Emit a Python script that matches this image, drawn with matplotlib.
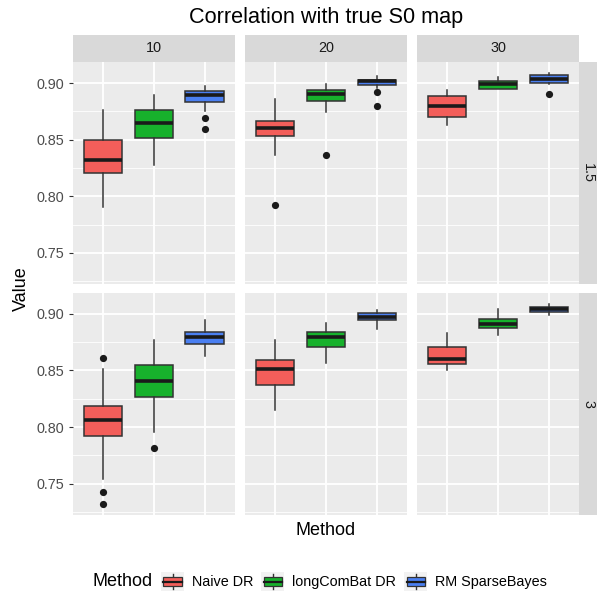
import matplotlib
matplotlib.use("Agg")  # headless
import matplotlib.pyplot as plt
from matplotlib.legend_handler import HandlerBase
from matplotlib.patches import Rectangle, Patch
from matplotlib.lines import Line2D

plt.rcParams["font.family"] = ["Liberation Sans", "DejaVu Sans"]

methods = ["Naive DR", "longComBat DR", "RM SparseBayes"]
fills = ["#F35E5A", "#17B12C", "#4A7FF1"]
col_levels = ["10", "20", "30"]
row_levels = ["1.5", "3"]

# box summaries indexed [row][col][method]
whislo = [
    [[0.7906, 0.8278, 0.8751], [0.8365, 0.8746, 0.8955], [0.8629, 0.8944, 0.8989]],
    [[0.7544, 0.7953, 0.8626], [0.8152, 0.8567, 0.8865], [0.8500, 0.8816, 0.8991]],
]
q1 = [
    [[0.8205, 0.8518, 0.8833], [0.8530, 0.8842, 0.8985], [0.8702, 0.8944, 0.9004]],
    [[0.7924, 0.8266, 0.8737], [0.8368, 0.8708, 0.8944], [0.8559, 0.8871, 0.9020]],
]
med = [
    [[0.8322, 0.8649, 0.8892], [0.8600, 0.8900, 0.9015], [0.8798, 0.8995, 0.9039]],
    [[0.8061, 0.8406, 0.8795], [0.8509, 0.8795, 0.8971], [0.8605, 0.8912, 0.9041]],
]
q3 = [
    [[0.8497, 0.8760, 0.8927], [0.8670, 0.8936, 0.9032], [0.8883, 0.9017, 0.9074]],
    [[0.8187, 0.8544, 0.8839], [0.8588, 0.8839, 0.9003], [0.8708, 0.8953, 0.9058]],
]
whishi = [
    [[0.8760, 0.8892, 0.8971], [0.8863, 0.8994, 0.9061], [0.8942, 0.9053, 0.9088]],
    [[0.8509, 0.8772, 0.8942], [0.8772, 0.8918, 0.9035], [0.8830, 0.9044, 0.9085]],
]
fliers = [
    [[[], [], [0.8696, 0.8596]], [[0.7927], [0.8365], [0.8921, 0.8795]], [[], [], [0.8904]]],
    [[[0.8614, 0.7430, 0.7325], [0.7816], []], [[], [], []], [[], [], []]],
]

W, H = 597, 594
fig = plt.figure(figsize=(W / 100, H / 100), dpi=100)


def px_axes(x0, y0, x1, y1):
    # pixel box (top-left origin) -> figure axes
    return fig.add_axes([x0 / W, 1 - y1 / H, (x1 - x0) / W, (y1 - y0) / H])


PL, PW, GAP = 72.5, 162.5, 9.7
ROWS = [(62.3, 283.8), (293.0, 514.5)]
STRIP_TOP = 34.5
RSTRIP_W = 17.6
GREY85 = "#D9D9D9"

for r, (yt, yb) in enumerate(ROWS):
    for c in range(3):
        x0 = PL + c * (PW + GAP)
        ax = px_axes(x0, yt, x0 + PW, yb)
        ax.set_facecolor("#EBEBEB")
        stats = []
        for m in range(3):
            stats.append({
                "whislo": whislo[r][c][m], "q1": q1[r][c][m], "med": med[r][c][m],
                "q3": q3[r][c][m], "whishi": whishi[r][c][m], "fliers": fliers[r][c][m],
            })
        bp = ax.bxp(stats, positions=[1, 2, 3], widths=0.75, patch_artist=True,
                    showcaps=False, manage_ticks=False,
                    boxprops=dict(edgecolor="#333333", linewidth=1.1),
                    medianprops=dict(color="#1A1A1A", linewidth=2.6, solid_capstyle="butt"),
                    whiskerprops=dict(color="#333333", linewidth=1.1),
                    flierprops=dict(marker="o", markerfacecolor="#1A1A1A",
                                    markeredgecolor="none", markersize=5.2))
        for patch, fc in zip(bp["boxes"], fills):
            patch.set_facecolor(fc)

        ax.set_xlim(0.4, 3.6)
        ax.set_ylim(0.7228, 0.9184)
        ax.set_xticks([1, 2, 3])
        ax.set_yticks([0.75, 0.80, 0.85, 0.90])
        ax.set_yticks([0.725, 0.775, 0.825, 0.875], minor=True)
        ax.set_axisbelow(True)
        ax.grid(which="major", color="white", linewidth=1.3)
        ax.grid(which="minor", axis="y", color="white", linewidth=0.6)
        for s in ax.spines.values():
            s.set_visible(False)
        ax.tick_params(axis="x", length=0, labelbottom=False)
        ax.tick_params(axis="y", which="minor", length=0)
        if c == 0:
            ax.set_yticklabels(["0.75", "0.80", "0.85", "0.90"])
            ax.tick_params(axis="y", which="major", length=2.75, width=0.8,
                           color="#333333", labelcolor="#4D4D4D",
                           labelsize=10.4, pad=3.0)
        else:
            ax.tick_params(axis="y", which="major", length=0, labelleft=False)

        # column strips on top row
        if r == 0:
            sx = px_axes(x0, STRIP_TOP, x0 + PW, yt)
            sx.set_facecolor(GREY85)
            sx.set_xticks([])
            sx.set_yticks([])
            for s in sx.spines.values():
                s.set_visible(False)
            sx.text(0.5, 0.5, col_levels[c], ha="center", va="center",
                    fontsize=10.4, color="#1A1A1A", transform=sx.transAxes)

    # row strip on the right
    xr = PL + 3 * PW + 2 * GAP
    rx = px_axes(xr, yt, xr + RSTRIP_W, yb)
    rx.set_facecolor(GREY85)
    rx.set_xticks([])
    rx.set_yticks([])
    for s in rx.spines.values():
        s.set_visible(False)
    rx.text(0.5, 0.5, row_levels[r], ha="center", va="center", rotation=270,
            fontsize=10.4, color="#1A1A1A", transform=rx.transAxes)

panels_cx = (PL + PL + 3 * PW + 2 * GAP) / 2
fig.text(panels_cx / W, 1 - 22.7 / H, "Correlation with true S0 map",
         ha="center", va="baseline", fontsize=15.6)
fig.text(21.5 / W, 1 - (ROWS[0][0] + ROWS[1][1]) / 2 / H, "Value",
         ha="center", va="center", rotation=90, fontsize=13)
fig.text(panels_cx / W, 1 - 530.5 / H, "Method", ha="center", va="center", fontsize=13)


class BoxKey(HandlerBase):
    def create_artists(self, legend, orig_handle, xdescent, ydescent,
                       width, height, fontsize, trans):
        x0, y0 = -xdescent, -ydescent
        bg = Rectangle((x0, y0), width, height, facecolor="#F2F2F2",
                       edgecolor="none", transform=trans)
        cx = x0 + width / 2
        whisk = Line2D([cx, cx], [y0 + 0.1 * height, y0 + 0.9 * height],
                       color="#333333", lw=1.0, transform=trans)
        box = Rectangle((x0 + 0.1 * width, y0 + 0.25 * height), 0.8 * width,
                        0.5 * height, facecolor=orig_handle.get_facecolor(),
                        edgecolor="#333333", lw=0.9, transform=trans)
        mline = Line2D([x0 + 0.1 * width, x0 + 0.9 * width],
                       [y0 + 0.5 * height] * 2, color="#1A1A1A", lw=1.6,
                       transform=trans)
        return [bg, whisk, box, mline]


handles = [Patch(facecolor=f) for f in fills]
fig.text(92 / W, 1 - 581.7 / H, "Method", ha="left", va="center", fontsize=13)
fig.legend(handles, methods, handler_map={Patch: BoxKey()},
           loc="center left", bbox_to_anchor=(161.0 / W, 1 - 581.7 / H),
           bbox_transform=fig.transFigure, ncol=3, frameon=False,
           fontsize=10.4, handlelength=1.6, handleheight=1.6,
           handletextpad=0.55, columnspacing=0.55, borderpad=0, borderaxespad=0)

fig.savefig("out.png", dpi=100)
plt.close(fig)
